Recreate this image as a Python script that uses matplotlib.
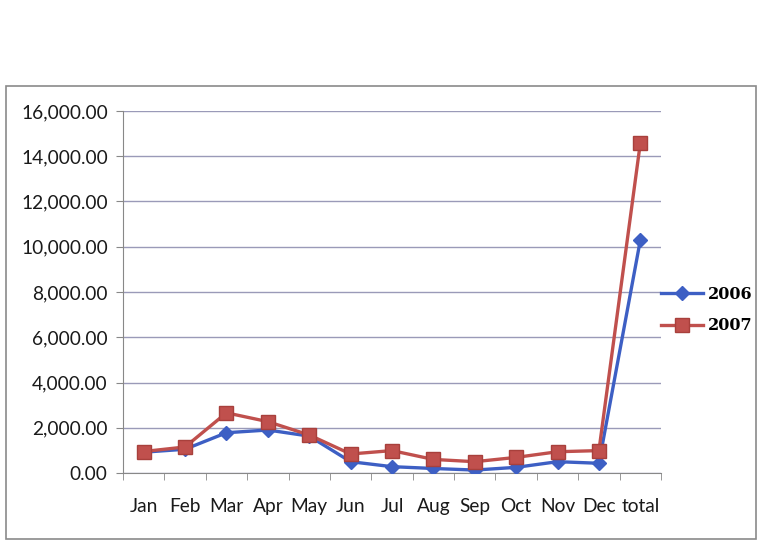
import matplotlib.pyplot as plt
from matplotlib.patches import Rectangle
from matplotlib.ticker import FuncFormatter, MultipleLocator

months = ["Jan", "Feb", "Mar", "Apr", "May", "Jun", "Jul", "Aug", "Sep",
          "Oct", "Nov", "Dec", "total"]
sales_2006 = [920, 1050, 1780, 1900, 1630, 500, 280, 200, 130, 250, 500, 430, 10290]
sales_2007 = [950, 1150, 2660, 2270, 1680, 840, 990, 600, 500, 690, 940, 990, 14580]

W, H = 761, 541
fig = plt.figure(figsize=(W / 100, H / 100), dpi=100)
fig.patch.set_facecolor("white")

# outer chart border
fig.patches.append(Rectangle((6 / W, 2 / H), 750 / W, 453 / H, transform=fig.transFigure,
                             fill=False, edgecolor="#8a8a8a", lw=1.2))

ax = fig.add_axes([123 / W, 68 / H, 538 / W, 362 / H])
x = range(len(months))
ax.plot(x, sales_2006, color="#3d5fc4", lw=2.4, marker="D", ms=7,
        mfc="#3d5fc4", mec="#3d5fc4", label="2006", zorder=3)
ax.plot(x, sales_2007, color="#c0504d", lw=2.4, marker="s", ms=10,
        mfc="#c0504d", mec="#a8403c", label="2007", zorder=4)

ax.set_xlim(-0.5, len(months) - 0.5)
ax.set_ylim(0, 16000)
ax.yaxis.set_major_locator(MultipleLocator(2000))
ax.yaxis.set_major_formatter(FuncFormatter(lambda v, p: f"{v:,.2f}"))
ax.grid(axis="y", color="#9a9ab8", lw=1.0)
ax.set_axisbelow(True)

ax.set_xticks(list(x))
ax.set_xticklabels(months)
ax.set_xticks([i - 0.5 for i in range(len(months) + 1)], minor=True)
ax.tick_params(axis="x", which="major", length=0, pad=18)
ax.tick_params(axis="x", which="minor", length=5, color="#888888")
ax.tick_params(axis="y", length=5, color="#888888", pad=6)
for lab in ax.get_xticklabels() + ax.get_yticklabels():
    lab.set_fontfamily("Lato")
    lab.set_fontsize(13.8)
    lab.set_color("#1a1a1a")

for side in ["top", "right"]:
    ax.spines[side].set_visible(False)
for side in ["left", "bottom"]:
    ax.spines[side].set_color("#888888")

fig.legend(loc="center left", bbox_to_anchor=(655 / W, 1 - 310 / H), frameon=False,
           handlelength=2.6, labelspacing=0.9, borderaxespad=0, handletextpad=0.3,
           prop={"family": "DejaVu Serif", "weight": "bold", "size": 11.5})

fig.savefig("out.png", dpi=100)
